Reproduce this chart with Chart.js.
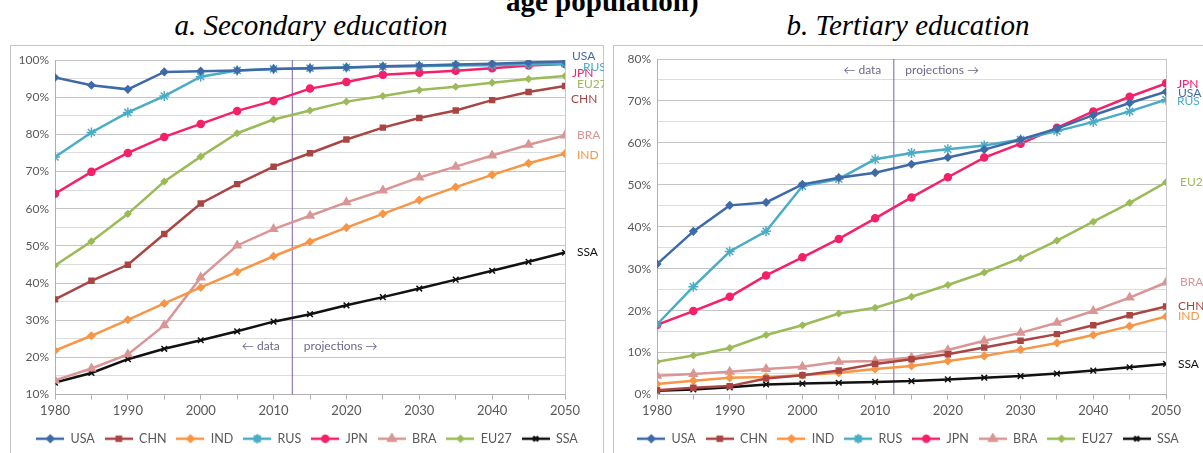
<!DOCTYPE html>
<html>
<head>
<meta charset="utf-8">
<script src="https://cdn.jsdelivr.net/npm/chart.js@4.4.0/dist/chart.umd.min.js"></script>
<style>
  body { margin: 0; background: #fff; width: 1203px; height: 453px; overflow: hidden; position: relative; }
  .cut { position: absolute; left: 506px; top: -15px; font: bold 29px "Liberation Serif", serif; color: #000; white-space: nowrap; }
  .title { position: absolute; top: 9px; font: italic 29px "Liberation Serif", serif; color: #000; white-space: nowrap; text-align: center; }
  .box { position: absolute; top: 45px; height: 420px; border: 1px solid #c6c6c6; box-sizing: border-box; }
  canvas { position: absolute; top: 45px; }
</style>
</head>
<body>
<div class="cut">age population)</div>
<div class="title" style="left:14px;width:594px;">a. Secondary education</div>
<div class="title" style="left:613px;width:590px;">b. Tertiary education</div>
<div class="box" style="left:10px;width:594px;"></div>
<div class="box" style="left:613px;width:600px;"></div>
<canvas id="secondary" width="594" height="420" style="left:10px;"></canvas>
<canvas id="tertiary" width="590" height="420" style="left:613px;"></canvas>
<script>
// years and series
const years = [1980, 1985, 1990, 1995, 2000, 2005, 2010, 2015, 2020, 2025, 2030, 2035, 2040, 2045, 2050];
const regions = ['USA', 'CHN', 'IND', 'RUS', 'JPN', 'BRA', 'EU27', 'SSA'];

// a. Secondary education (%)
const secUSA  = [95.3, 93.2, 92.1, 96.8, 97.0, 97.2, 97.6, 97.8, 98.0, 98.3, 98.5, 98.8, 99.0, 99.3, 99.6];
const secCHN  = [35.6, 40.6, 44.9, 53.2, 61.4, 66.6, 71.3, 74.9, 78.6, 81.8, 84.4, 86.4, 89.2, 91.4, 93.0];
const secIND  = [21.8, 25.8, 30.1, 34.5, 38.8, 43.0, 47.2, 51.1, 54.9, 58.6, 62.3, 65.8, 69.1, 72.2, 74.8];
const secRUS  = [73.9, 80.5, 85.9, 90.3, 95.5, 97.2, 97.6, 97.8, 98.0, 98.2, 98.3, 98.5, 98.6, 98.8, 99.0];
const secJPN  = [64.0, 69.9, 75.0, 79.3, 82.8, 86.3, 89.0, 92.3, 94.1, 96.0, 96.6, 97.1, 97.8, 98.5, 98.9];
const secBRA  = [13.8, 17.0, 20.8, 28.6, 41.5, 50.1, 54.5, 58.1, 61.7, 64.9, 68.4, 71.3, 74.3, 77.2, 79.7];
const secEU27 = [44.7, 51.2, 58.6, 67.3, 74.0, 80.3, 84.0, 86.4, 88.8, 90.3, 91.9, 92.8, 93.9, 94.9, 95.7];
const secSSA  = [13.2, 15.8, 19.5, 22.3, 24.6, 27.0, 29.6, 31.6, 34.0, 36.2, 38.5, 40.9, 43.3, 45.7, 48.2];

// b. Tertiary education (%)
const terUSA  = [31.1, 38.9, 45.1, 45.8, 50.1, 51.7, 52.9, 54.9, 56.5, 58.4, 60.8, 63.4, 66.6, 69.5, 72.2];
const terCHN  = [1.0, 1.6, 2.0, 3.8, 4.6, 5.7, 7.3, 8.4, 9.6, 11.2, 12.8, 14.4, 16.5, 18.9, 21.0];
const terIND  = [2.5, 3.3, 4.0, 4.2, 4.6, 5.2, 6.1, 6.8, 8.0, 9.2, 10.7, 12.3, 14.2, 16.3, 18.6];
const terRUS  = [16.7, 25.7, 34.1, 38.9, 49.7, 51.4, 56.1, 57.6, 58.5, 59.4, 60.8, 62.8, 65.0, 67.5, 70.3];
const terJPN  = [16.6, 19.9, 23.3, 28.4, 32.7, 37.1, 42.0, 47.0, 51.8, 56.5, 59.8, 63.6, 67.5, 71.0, 74.2];
const terBRA  = [4.5, 4.9, 5.4, 6.1, 6.6, 7.8, 8.0, 8.8, 10.6, 12.8, 14.7, 17.1, 19.9, 23.1, 26.7];
const terEU27 = [7.8, 9.3, 11.1, 14.2, 16.5, 19.3, 20.7, 23.3, 26.1, 29.1, 32.5, 36.7, 41.2, 45.7, 50.6];
const terSSA  = [0.9, 1.2, 1.7, 2.4, 2.6, 2.8, 3.0, 3.2, 3.6, 4.0, 4.4, 5.0, 5.7, 6.5, 7.3];

const dataSplit = 2012.5;

// look of each series
const looks = {
  USA:  { color: '#3f6aa8', point: 'rectRot',  r: 3.5 },
  CHN:  { color: '#a94543', point: 'rect',     r: 3.5 },
  IND:  { color: '#f79646', point: 'rectRot',  r: 3.5 },
  RUS:  { color: '#4bacc6', point: 'star',     r: 5 },
  JPN:  { color: '#f5206a', point: 'circle',   r: 3.5 },
  BRA:  { color: '#d99694', point: 'triangle', r: 4.5 },
  EU27: { color: '#9bbb59', point: 'rectRot',  r: 3 },
  SSA:  { color: '#111111', point: 'crossRot', r: 4 }
};

const textColor = '#595959';
const fontFamily = 'Lato, "Open Sans", sans-serif';

function legendIcon(name) {
  const c = document.createElement('canvas');
  c.width = 28; c.height = 12;
  const g = c.getContext('2d');
  const lk = looks[name];
  g.strokeStyle = lk.color; g.lineWidth = 2.5;
  g.beginPath(); g.moveTo(0, 6); g.lineTo(28, 6); g.stroke();
  g.fillStyle = lk.color;
  Chart.helpers.drawPoint(g, { pointStyle: lk.point, radius: lk.r - 0.5, borderWidth: 1.5, rotation: 0 }, 14, 6);
  return c;
}

// labels at the end of each line
const endLabels = {
  id: 'endLabels',
  afterDatasetsDraw(chart, args, opts) {
    const ctx = chart.ctx;
    ctx.save();
    ctx.font = '12px ' + fontFamily;
    ctx.textBaseline = 'middle';
    chart.data.datasets.forEach((ds, i) => {
      const meta = chart.getDatasetMeta(i);
      const pt = meta.data[meta.data.length - 1];
      const off = opts.offsets[ds.label] || [0, 0];
      ctx.fillStyle = ds.borderColor;
      ctx.fillText(ds.label, pt.x + 8 + off[0], pt.y + off[1]);
    });
    ctx.restore();
  }
};

// purple data / projections divider
const splitLine = {
  id: 'splitLine',
  beforeDatasetsDraw(chart, args, opts) {
    const { ctx, chartArea, scales } = chart;
    const x = scales.x.getPixelForValue(dataSplit);
    ctx.save();
    ctx.strokeStyle = '#7b5fb0';
    ctx.lineWidth = 1;
    ctx.beginPath(); ctx.moveTo(x + 0.5, chartArea.top); ctx.lineTo(x + 0.5, chartArea.bottom); ctx.stroke();
    ctx.font = '12px ' + fontFamily;
    ctx.fillStyle = '#6e6887';
    ctx.textBaseline = 'middle';
    const ty = opts.textFromTop ? chartArea.top + opts.textY : chartArea.bottom - opts.textY;
    ctx.textAlign = 'right';
    ctx.fillText('\u2190 data', x - 12, ty);
    ctx.textAlign = 'left';
    ctx.fillText('projections \u2192', x + 12, ty);
    // right border of plot area
    ctx.strokeStyle = '#c8c8c8';
    ctx.beginPath(); ctx.moveTo(chartArea.right + 0.5, chartArea.top); ctx.lineTo(chartArea.right + 0.5, chartArea.bottom); ctx.stroke();
    ctx.restore();
  }
};

function makeChart(id, values, yMin, yMax, yWidth, rightGap, topPad, offsets, textY, textFromTop) {
  const datasets = regions.map((name, i) => ({
    label: name,
    data: years.map((y, k) => ({ x: y, y: values[i][k] })),
    borderColor: looks[name].color,
    backgroundColor: looks[name].color,
    borderWidth: 2.5,
    pointStyle: looks[name].point,
    pointRadius: looks[name].r,
    pointBorderWidth: 1.5,
    tension: 0
  }));
  return new Chart(document.getElementById(id), {
    type: 'line',
    data: { datasets },
    options: {
      responsive: false,
      animation: false,
      devicePixelRatio: 1,
      layout: { padding: { top: topPad, right: 0, left: 0, bottom: 10 } },
      scales: {
        x: {
          type: 'linear', min: 1980, max: 2050,
          ticks: {
            stepSize: 5, color: textColor, font: { family: fontFamily, size: 13 },
            maxRotation: 0, padding: 4,
            callback: v => (v % 10 === 0 ? v : '')
          },
          grid: { drawOnChartArea: false, drawTicks: true, tickLength: 5, color: '#b0b0b0' },
          border: { color: '#b0b0b0' },
          afterFit: s => { s.height = 28; }
        },
        y: {
          min: yMin, max: yMax,
          ticks: {
            stepSize: 5, color: textColor, font: { family: fontFamily, size: 12 }, padding: 6,
            callback: v => (v % 10 === 0 ? v + '%' : '')
          },
          grid: {
            drawTicks: false,
            color: c => (c.tick && c.tick.value % 10 === 0 ? '#c4c4c4' : '#dcdcdc')
          },
          border: { color: '#b0b0b0' },
          afterFit: s => { s.width = yWidth; }
        },
        // empty right axis, leaves room for the end labels
        gap: {
          position: 'right', display: true, min: yMin, max: yMax,
          grid: { display: false, drawTicks: false },
          ticks: { display: false },
          border: { display: false },
          afterFit: s => { s.width = rightGap; }
        }
      },
      plugins: {
        legend: {
          position: 'bottom',
          labels: {
            usePointStyle: true, pointStyleWidth: 28, boxHeight: 12,
            padding: 10, color: textColor, font: { family: fontFamily, size: 12.5 },
            generateLabels: chart => chart.data.datasets.map((ds, i) => ({
              text: ds.label, pointStyle: legendIcon(ds.label), fontColor: textColor,
              lineWidth: 0, strokeStyle: 'transparent', fillStyle: 'transparent', datasetIndex: i
            }))
          }
        },
        tooltip: { enabled: false },
        endLabels: { offsets },
        splitLine: { textY, textFromTop }
      }
    },
    plugins: [endLabels, splitLine]
  });
}

makeChart('secondary',
  [secUSA, secCHN, secIND, secRUS, secJPN, secBRA, secEU27, secSSA],
  10, 100, 45, 39, 15,
  { USA: [-1, -5], RUS: [10, 3], JPN: [-1, 9], EU27: [4, 8], CHN: [-2, 13], BRA: [4, 0], IND: [4, 1], SSA: [4, 0] },
  48, false);

makeChart('tertiary',
  [terUSA, terCHN, terIND, terRUS, terJPN, terBRA, terEU27, terSSA],
  0, 80, 44, 37, 14,
  { JPN: [3, 1], USA: [4, 1], RUS: [3, 1], EU27: [6, 0], BRA: [6, 0], CHN: [4, 0], IND: [4, 0], SSA: [4, 0] },
  11, true);
</script>
</body>
</html>
